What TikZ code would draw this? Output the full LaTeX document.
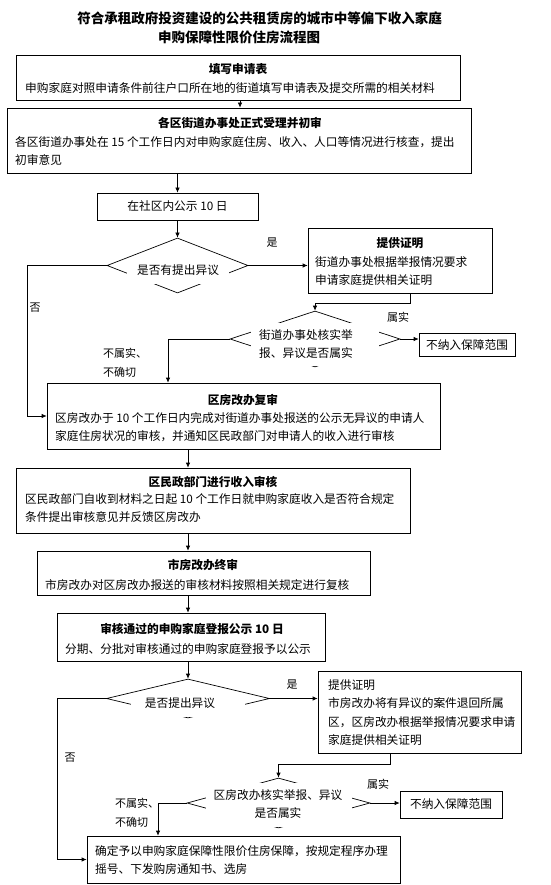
\documentclass[tikz,border=0pt]{standalone}
\usepackage{fontspec}
\setmainfont{Noto Sans CJK SC}
\usetikzlibrary{arrows.meta,shapes.geometric}
\tikzset{
  box/.style={draw, line width=0.7pt, inner sep=0pt, fill=white},
  dia/.style={draw, line width=0.7pt, shape=diamond, inner sep=0pt, aspect=1},
  ttl/.style={inner sep=0pt, font=\fontsize{11.7}{14}\selectfont\bfseries},
  body/.style={inner sep=0pt, anchor=west, align=left, font=\fontsize{11.7}{18}\selectfont},
  dtext/.style={inner sep=0pt, align=center, font=\fontsize{11.7}{18}\selectfont},
  lbl/.style={inner sep=0pt, font=\fontsize{11}{19}\selectfont},
  arr/.style={line width=0.7pt, -{Latex[length=5pt,width=4.5pt]}},
  ln/.style={line width=0.7pt}
}
\begin{document}
\begin{tikzpicture}[x=1pt,y=-1pt]
\useasboundingbox[fill=white] (0,0) rectangle (550,885);

% title
\node[inner sep=0pt, font=\fontsize{13.5}{16}\selectfont\bfseries] (t1) at (259.5,18) {符合承租政府投资建设的公共租赁房的城市中等偏下收入家庭};
\node[inner sep=0pt, font=\fontsize{13.5}{16}\selectfont\bfseries] (t2) at (239,37) {申购保障性限价住房流程图};

% box 1
\node[box, minimum width=444pt, minimum height=45pt] (b1) at (238,77.5) {};
\node[ttl] (b1t) at (238,69) {填写申请表};
\node[body] (b1l) at (25,88) {申购家庭对照申请条件前往户口所在地的街道填写申请表及提交所需的相关材料};

% box 2
\node[box, minimum width=464pt, minimum height=65pt] (b2) at (239,140.5) {};
\node[ttl] (b2t) at (240,123) {各区街道办事处正式受理并初审};
\node[body] (b2l) at (15,151.5) {各区街道办事处在 15 个工作日内对申购家庭住房、收入、人口等情况进行核查，提出\\初审意见};

% box 3
\node[box, minimum width=161pt, minimum height=27pt, font=\fontsize{11.7}{14}\selectfont] (b3) at (177.5,206.5) {在社区内公示 10 日};

% diamond 1
\node[dia, minimum width=141pt, minimum height=55pt] (d1) at (177.5,265.5) {};
\fill[white] (126.5,259) rectangle (228.5,283.5);
\node[dtext] (d1t) at (178,270) {是否有提出异议};

% box 4
\node[box, minimum width=184pt, minimum height=65pt] (b4) at (400,260.5) {};
\node[ttl] (b4t) at (400,243) {提供证明};
\node[body] (b4l) at (315,271) {街道办事处根据举报情况要求\\申请家庭提供相关证明};

% diamond 2
\node[dia, minimum width=170pt, minimum height=56pt] (d2) at (315,339) {};
\fill[white] (251,323.3) rectangle (379,366);
\node[dtext] (d2t) at (306,344) {街道办事处核实举\\报、异议是否属实};

% reject 1
\node[box, minimum width=96pt, minimum height=23pt, font=\fontsize{11.7}{14}\selectfont] (r1) at (467,345) {不纳入保障范围};

% box 5
\node[box, minimum width=393pt, minimum height=66pt] (b5) at (243.5,416) {};
\node[ttl] (b5t) at (243,400) {区房改办复审};
\node[body] (b5l) at (55,427.5) {区房改办于 10 个工作日内完成对街道办事处报送的公示无异议的申请人\\家庭住房状况的审核，并通知区民政部门对申请人的收入进行审核};

% box 6
\node[box, minimum width=394pt, minimum height=65pt] (b6) at (213,500.5) {};
\node[ttl] (b6t) at (213,482) {区民政部门进行收入审核};
\node[body] (b6l) at (25,508.5) {区民政部门自收到材料之日起 10 个工作日就申购家庭收入是否符合规定\\条件提出审核意见并反馈区房改办};

% box 7
\node[box, minimum width=333pt, minimum height=44pt] (b7) at (203.5,573) {};
\node[ttl] (b7t) at (203,565) {市房改办终审};
\node[body] (b7l) at (45,585) {市房改办对区房改办报送的审核材料按照相关规定进行复核};

% box 8
\node[box, minimum width=268pt, minimum height=48pt] (b8) at (191,637) {};
\node[ttl] (b8t) at (192,629) {审核通过的申购家庭登报公示 10 日};
\node[body] (b8l) at (65,649) {分期、分批对审核通过的申购家庭登报予以公示};

% diamond 3
\node[dia, minimum width=163pt, minimum height=39pt] (d3) at (188,698.5) {};
\fill[white] (131,693) rectangle (245,717.3);
\node[dtext] (d3t) at (180,703) {是否提出异议};

% box 9
\node[box, minimum width=203pt, minimum height=82pt] (b9) at (419.5,712) {};
\node[inner sep=0pt, anchor=west, align=left, font=\fontsize{11.7}{18.3}\selectfont] (b9l) at (328,712.5) {提供证明\\市房改办将有异议的案件退回所属\\区，区房改办根据举报情况要求申请\\家庭提供相关证明};

% diamond 4
\node[dia, minimum width=183pt, minimum height=50pt] (d4) at (278.5,803) {};
\fill[white] (205.5,783) rectangle (351.5,827);
\node[dtext] (d4t) at (278,804) {区房改办核实举报、异议\\是否属实};

% reject 2
\node[box, minimum width=102pt, minimum height=27pt, font=\fontsize{11.7}{14}\selectfont] (r2) at (451,804.5) {不纳入保障范围};

% box 10
\node[box, minimum width=313pt, minimum height=47pt] (b10) at (243.5,859.5) {};
\node[body] (b10l) at (95,860.5) {确定予以申购家庭保障性限价住房保障，按规定程序办理\\摇号、下发购房通知书、选房};

% labels
\node[lbl] (l1) at (272,243) {是};
\node[lbl] (l2) at (35,308) {否};
\node[lbl] (l3) at (398,317) {属实};
\node[lbl, anchor=west, align=left] (l4) at (103,362.5) {不属实、\\不确切};
\node[lbl] (l5) at (292,685) {是};
\node[lbl] (l6) at (70,758) {否};
\node[lbl] (l7) at (378,784) {属实};
\node[lbl, anchor=west, align=left] (l8) at (115,813) {不属实、\\不确切};

% helper coordinates
\coordinate (k1) at (168,0);
\coordinate (k2) at (27,0);
\coordinate (k3) at (188,0);
\coordinate (k4) at (158,0);
\coordinate (k5) at (57,0);

% connectors
\draw[arr] (b1.south -| b2.north) ++(1,0) coordinate (s1) -- (s1 |- b2.north);
\draw[arr] (b3.north |- b2.south) -- (b3.north);
\draw[arr] (b3.south) -- (d1.north);
\draw[arr] (d1.east) -- (d1.east -| b4.west);
\draw[arr] ([xshift=10pt]b4.south) -- ++(0,10) -| (d2.north);
\draw[arr] (d2.east) -- (d2.east -| r1.west);
\draw[arr] (d2.west) -| (k1 |- b5.north);
\draw[arr] (d1.west) -| (k2 |- b5.west) -- (b5.west);
\draw[arr] (k3 |- b5.south) -- (k3 |- b6.north);
\draw[arr] (k3 |- b6.south) -- (k3 |- b7.north);
\draw[arr] (k3 |- b7.south) -- (k3 |- b8.north);
\draw[arr] (d3.north |- b8.south) -- (d3.north);
\draw[arr] (d3.east) -- (d3.east -| b9.west);
\draw[arr] ([xshift=-29.5pt]b9.south) -- ++(0,11) -| (d4.north);
\draw[arr] (d4.east) -- (d4.east -| r2.west);
\draw[arr] (d4.west) -| (k4 |- b10.north);
\draw[arr] (d3.west) -| (k5 |- b10.west) -- (b10.west);
\end{tikzpicture}
\end{document}
